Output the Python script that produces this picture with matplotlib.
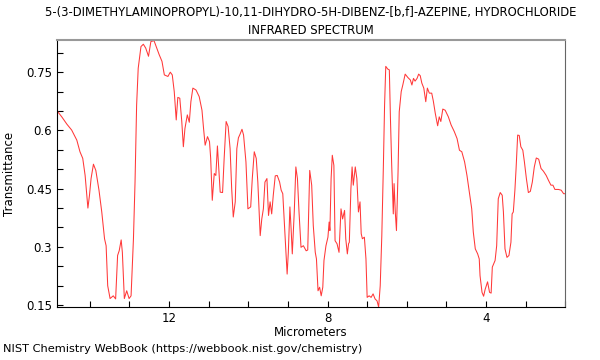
import matplotlib
matplotlib.use("Agg")
import matplotlib.pyplot as plt
from matplotlib.ticker import MultipleLocator, FixedLocator

# wavelength (micrometers) and transmittance
wavelength = [
    14.84, 14.71, 14.58, 14.46, 14.33, 14.25, 14.18, 14.12, 14.05, 14.01,
    13.97, 13.91, 13.85, 13.77, 13.70, 13.63, 13.59, 13.55, 13.49, 13.41,
    13.35, 13.30, 13.26, 13.21, 13.18, 13.13, 13.07, 13.01, 12.96, 12.90,
    12.86, 12.82, 12.78, 12.71, 12.65, 12.59, 12.52, 12.46, 12.38, 12.31,
    12.25, 12.18, 12.12, 12.03, 11.97, 11.92, 11.87, 11.82, 11.78, 11.73,
    11.68, 11.64, 11.60, 11.54, 11.49, 11.45, 11.40, 11.32, 11.24, 11.17,
    11.13, 11.09, 11.03, 10.98, 10.95, 10.91, 10.86, 10.82, 10.78, 10.74,
    10.71, 10.65, 10.61, 10.56, 10.51, 10.46, 10.42, 10.38, 10.33, 10.29,
    10.25, 10.21, 10.16, 10.12, 10.06, 10.01, 9.94, 9.90, 9.85, 9.80,
    9.76, 9.70, 9.66, 9.62, 9.58, 9.53, 9.49, 9.45, 9.41, 9.37,
    9.32, 9.27, 9.21, 9.17, 9.13, 9.09, 9.05, 9.02, 8.99, 8.95,
    8.92, 8.89, 8.84, 8.80, 8.76, 8.72, 8.67, 8.61, 8.54, 8.50,
    8.45, 8.40, 8.36, 8.31, 8.28, 8.24, 8.20, 8.16, 8.12, 8.09,
    8.04, 7.99, 7.96, 7.94, 7.91, 7.88, 7.84, 7.81, 7.76, 7.71,
    7.66, 7.62, 7.57, 7.54, 7.50, 7.47, 7.45, 7.41, 7.38, 7.35,
    7.30, 7.26, 7.22, 7.18, 7.15, 7.12, 7.07, 7.03, 7.00, 6.95,
    6.90, 6.85, 6.80, 6.75, 6.71, 6.67, 6.63, 6.59, 6.56, 6.53,
    6.48, 6.44, 6.41, 6.38, 6.34, 6.32, 6.29, 6.26, 6.22, 6.19,
    6.14, 6.10, 6.04, 5.97, 5.91, 5.87, 5.83, 5.79, 5.74, 5.70,
    5.66, 5.62, 5.57, 5.52, 5.48, 5.43, 5.37, 5.33, 5.28, 5.22,
    5.18, 5.14, 5.09, 5.03, 4.95, 4.88, 4.80, 4.73, 4.67, 4.61,
    4.54, 4.48, 4.42, 4.36, 4.32, 4.27, 4.21, 4.17, 4.15, 4.10,
    4.06, 4.02, 3.96, 3.91, 3.87, 3.84, 3.77, 3.73, 3.69, 3.64,
    3.59, 3.56, 3.52, 3.47, 3.42, 3.37, 3.34, 3.31, 3.27, 3.24,
    3.20, 3.16, 3.12, 3.07, 3.03, 2.98, 2.93, 2.88, 2.83, 2.78,
    2.73, 2.67, 2.61, 2.55, 2.48, 2.42, 2.36, 2.31, 2.26, 2.17,
    2.10, 2.04, 2.00,
]
transmittance = [
    0.652, 0.635, 0.616, 0.601, 0.575, 0.545, 0.528, 0.484, 0.400, 0.433,
    0.476, 0.513, 0.497, 0.446, 0.390, 0.321, 0.303, 0.200, 0.167, 0.174,
    0.166, 0.278, 0.290, 0.318, 0.286, 0.167, 0.187, 0.167, 0.174, 0.321,
    0.467, 0.665, 0.760, 0.816, 0.822, 0.812, 0.791, 0.829, 0.831, 0.812,
    0.795, 0.778, 0.743, 0.739, 0.750, 0.743, 0.700, 0.627, 0.685, 0.683,
    0.623, 0.558, 0.605, 0.640, 0.621, 0.674, 0.709, 0.704, 0.687, 0.652,
    0.605, 0.562, 0.584, 0.571, 0.528, 0.420, 0.489, 0.484, 0.560, 0.493,
    0.441, 0.440, 0.528, 0.623, 0.610, 0.553, 0.450, 0.377, 0.416, 0.553,
    0.581, 0.590, 0.603, 0.588, 0.519, 0.398, 0.403, 0.476, 0.545, 0.528,
    0.467, 0.329, 0.372, 0.398, 0.467, 0.476, 0.381, 0.416, 0.385, 0.433,
    0.483, 0.484, 0.467, 0.446, 0.437, 0.364, 0.286, 0.230, 0.286, 0.403,
    0.347, 0.282, 0.390, 0.506, 0.476, 0.390, 0.299, 0.303, 0.290, 0.292,
    0.497, 0.459, 0.355, 0.286, 0.269, 0.187, 0.196, 0.174, 0.196, 0.265,
    0.303, 0.325, 0.364, 0.342, 0.476, 0.536, 0.510, 0.316, 0.308, 0.286,
    0.398, 0.372, 0.394, 0.321, 0.282, 0.308, 0.312, 0.450, 0.506, 0.459,
    0.506, 0.476, 0.390, 0.416, 0.334, 0.321, 0.325, 0.269, 0.170, 0.174,
    0.170, 0.179, 0.166, 0.161, 0.145, 0.200, 0.329, 0.510, 0.665, 0.765,
    0.758, 0.756, 0.623, 0.510, 0.385, 0.463, 0.390, 0.342, 0.493, 0.648,
    0.700, 0.717, 0.745, 0.736, 0.730, 0.717, 0.734, 0.727, 0.734, 0.745,
    0.741, 0.722, 0.709, 0.674, 0.709, 0.696, 0.696, 0.676, 0.644, 0.612,
    0.635, 0.623, 0.655, 0.652, 0.635, 0.614, 0.597, 0.579, 0.549, 0.545,
    0.519, 0.484, 0.441, 0.398, 0.338, 0.295, 0.282, 0.269, 0.226, 0.183,
    0.173, 0.191, 0.210, 0.183, 0.181, 0.248, 0.265, 0.303, 0.424, 0.440,
    0.433, 0.390, 0.295, 0.273, 0.278, 0.312, 0.385, 0.390, 0.446, 0.502,
    0.588, 0.587, 0.558, 0.549, 0.519, 0.476, 0.440, 0.443, 0.467, 0.506,
    0.529, 0.526, 0.502, 0.495, 0.484, 0.471, 0.459, 0.459, 0.448, 0.448,
    0.446, 0.437, 0.437,
]

fig = plt.figure(figsize=(6, 3.6), dpi=100)
ax = fig.add_axes([0.095, 0.147, 0.847, 0.742])

ax.plot(wavelength, transmittance, color="#ff3838", lw=0.75)

ax.set_xlim(14.83, 2.0)
ax.set_ylim(0.145, 0.833)

ax.xaxis.set_major_locator(FixedLocator([12, 8, 4]))
ax.xaxis.set_minor_locator(MultipleLocator(1))
ax.yaxis.set_major_locator(MultipleLocator(0.15))
ax.yaxis.set_minor_locator(MultipleLocator(0.05))
ax.yaxis.set_major_formatter(lambda v, p: f"{v:g}")
ax.tick_params(which="both", direction="in", length=4, width=0.8, labelsize=8.5)

ax.spines["top"].set_color("#999999")
ax.spines["top"].set_linewidth(1.5)
ax.spines["right"].set_color("#666666")

ax.set_xlabel("Micrometers", fontsize=8.5, labelpad=1)
ax.set_ylabel("Transmittance", fontsize=8.5, labelpad=7)
ax.set_title("5-(3-DIMETHYLAMINOPROPYL)-10,11-DIHYDRO-5H-DIBENZ-[b,f]-AZEPINE, HYDROCHLORIDE\n"
             "INFRARED SPECTRUM", fontsize=8.4, pad=4, linespacing=1.5)
fig.text(0.005, 0.022, "NIST Chemistry WebBook (https://webbook.nist.gov/chemistry)", fontsize=8.2)

fig.savefig("out.png", dpi=100)
